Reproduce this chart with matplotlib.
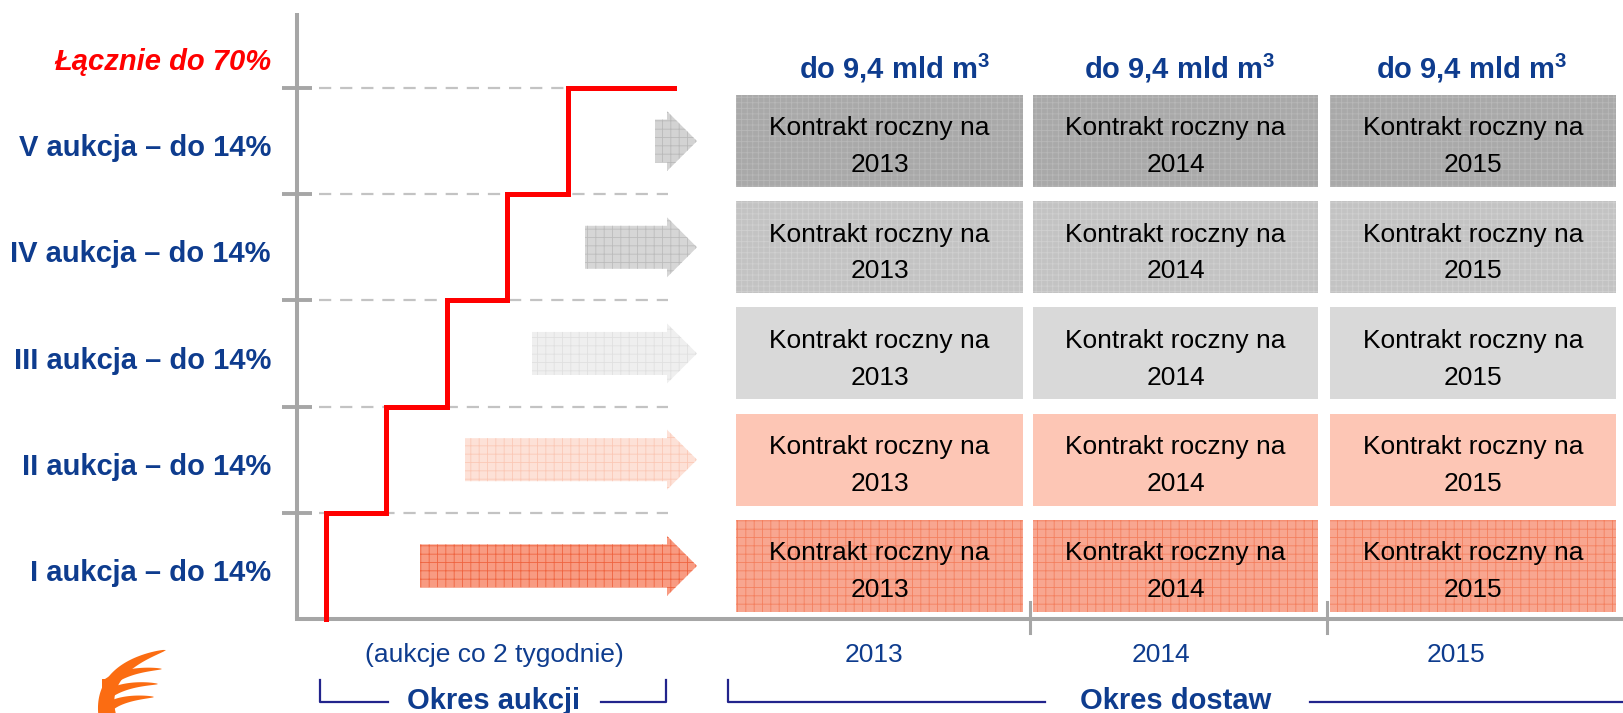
import numpy as np
import matplotlib.pyplot as plt
from matplotlib.patches import Polygon, Rectangle

plt.rcParams['font.family'] = ['Liberation Sans', 'DejaVu Sans']
plt.rcParams['hatch.linewidth'] = 0.6
plt.rcParams['mathtext.fontset'] = 'custom'
plt.rcParams['mathtext.rm'] = 'Liberation Sans'
plt.rcParams['mathtext.bf'] = 'Liberation Sans:bold'

# data
auctions = ['I', 'II', 'III', 'IV', 'V']
auction_share = [14, 14, 14, 14, 14]
total_label = 'Łącznie do 70%'
years = [2013, 2014, 2015]
year_volume = [9.4, 9.4, 9.4]
auction_note = '(aukcje co 2 tygodnie)'

# styles, bottom row (I) to top row (V)
blue = '#0e3c8e'
box_face = ['#f8a690', '#fdc6b5', '#d9d9d9', '#c3c3c3', '#a9a9a9']
box_hatch = ['++', None, None, '+++', '+++']
box_hatch_col = ['#f4805f', '#fdc6b5', '#d9d9d9', '#d0d0d0', '#b8b8b8']
arrow_face = ['#f89b82', '#fde1d7', '#efefef', '#d6d6d6', '#d3d3d3']
arrow_hatch_col = ['#ef6440', '#fbc8b6', '#e0e0e0', '#bcbcbc', '#b9b9b9']

# layout (x in pixels, y in percent)
px_per_pct = 7.586
y0_px = 619
axis_x = 297
step_x0, step_dx, step_end = 326, 60.5, 674
arrow_start = [420, 465, 532, 585, 655]
arrow_tip, head_len = 697, 30
cols = [(736, 1023), (1033, 1318), (1330, 1616)]
header_x = [894, 1179, 1471]
year_x = [874, 1161, 1456]

fig = plt.figure(figsize=(16.24, 7.13), dpi=100)
ax = fig.add_axes([0, 0, 1, 1])
ax.set_xlim(0, 1624)
ax.set_ylim(-(713 - y0_px) / px_per_pct, y0_px / px_per_pct)
ax.axis('off')

cum = np.cumsum(auction_share)
top = (y0_px - 13) / px_per_pct

# axes lines
ax.plot([axis_x, axis_x], [0, top], color='#a6a6a6', lw=2.9, solid_capstyle='butt', zorder=2)
ax.plot([axis_x, 1624], [0, 0], color='#a6a6a6', lw=2.9, solid_capstyle='projecting', zorder=2)
for a, b in cols[1:]:
    ax.plot([a - 3, a - 3], [-1.8, 2.2], color='#a6a6a6', lw=2.2, zorder=2)

# level lines and tick stubs
for c in cum:
    ax.plot([319, 668], [c, c], color='#c3c3c3', lw=1.6, ls=(0, (5.5, 4)), zorder=1)
    ax.plot([282, 312], [c, c], color='#a6a6a6', lw=2.8, solid_capstyle='butt', zorder=2)

# cumulative step line
xs = [step_x0] + [step_x0 + step_dx * i for i in range(len(cum))] + [step_end]
ys = [0] + list(cum) + [cum[-1]]
ax.plot(xs, ys, drawstyle='steps-post', color='#ff0000', lw=3.6,
        solid_joinstyle='miter', zorder=4)

body_h = 43 / px_per_pct
head_h = 60 / px_per_pct
box_h = 92 / px_per_pct

for k, (name, share) in enumerate(zip(auctions, auction_share)):
    lo = cum[k] - share
    mid = lo + share / 2
    # label
    ax.text(271, mid - 2.0, f'{name} aukcja – do {share}%', ha='right', va='baseline',
            fontsize=21, fontweight='bold', color=blue)
    # arrow
    xs0, xh = arrow_start[k], arrow_tip - head_len
    pts = [(xs0, mid - body_h / 2), (xh, mid - body_h / 2), (xh, mid - head_h / 2),
           (arrow_tip, mid), (xh, mid + head_h / 2), (xh, mid + body_h / 2),
           (xs0, mid + body_h / 2)]
    ax.add_patch(Polygon(pts, closed=True, facecolor=arrow_face[k],
                         edgecolor=arrow_hatch_col[k], lw=0, hatch='++', zorder=3))
    # contract boxes
    for (a, b), yr in zip(cols, years):
        ax.add_patch(Rectangle((a, mid - box_h / 2), b - a, box_h, facecolor=box_face[k],
                               edgecolor=box_hatch_col[k], lw=0, hatch=box_hatch[k], zorder=3))
        ax.text((a + b) / 2, mid - 0.75, f'Kontrakt roczny na\n{yr}', ha='center', va='center',
                fontsize=19, linespacing=1.68, color='black', zorder=5)

ax.text(271, 72.4, total_label, ha='right', va='baseline', fontsize=21,
        fontweight='bold', style='italic', color='#ff0000')

for x, v in zip(header_x, year_volume):
    num = f'{v:.1f}'.replace('.', ',')
    ax.text(x, 71.2, f'do {num} mld m' + r'$^{\mathbf{3}}$', ha='center', va='baseline',
            fontsize=21, fontweight='bold', color=blue)

for x, yr in zip(year_x, years):
    ax.text(x, -4.75, str(yr), ha='center', va='center', fontsize=19, color=blue)
ax.text(494, -4.75, auction_note, ha='center', va='center', fontsize=19, color=blue)

# brackets
br = '#22248c'
yb_top, yb_bot = -8.0, -10.95
ax.plot([320, 320, 388], [yb_top, yb_bot, yb_bot], color=br, lw=1.6)
ax.plot([601, 666, 666], [yb_bot, yb_bot, yb_top], color=br, lw=1.6)
ax.text(494, -11.9, 'Okres aukcji', ha='center', va='baseline', fontsize=21,
        fontweight='bold', color=blue)
ax.plot([728, 728, 1045], [yb_top, yb_bot, yb_bot], color=br, lw=1.6)
ax.plot([1310, 1624], [yb_bot, yb_bot], color=br, lw=1.6)
ax.text(1176, -11.9, 'Okres dostaw', ha='center', va='baseline', fontsize=21,
        fontweight='bold', color=blue)

# logo
lax = fig.add_axes([90 / 1624, 0, 80 / 1624, 66 / 713])
lax.set_xlim(0, 80)
lax.set_ylim(0, 66)
lax.axis('off')


def feather(p0, p1, p2, w0):
    p0, p1, p2 = np.array(p0, float), np.array(p1, float), np.array(p2, float)
    t = np.linspace(0, 1, 50)[:, None]
    pts = (1 - t) ** 2 * p0 + 2 * (1 - t) * t * p1 + t ** 2 * p2
    d = 2 * (1 - t) * (p1 - p0) + 2 * t * (p2 - p1)
    n = np.column_stack([-d[:, 1], d[:, 0]]) / np.linalg.norm(d, axis=1)[:, None]
    w = w0 * (1 - t) ** 0.6 / 2
    poly = np.vstack([pts + n * w, (pts - n * w)[::-1]])
    lax.add_patch(Polygon(poly, closed=True, facecolor='#fb6c12', edgecolor='none'))


feather((18, -6), (6, 44), (76, 63), 18)
feather((18, 30), (36, 44), (72, 44), 10)
feather((20, 20), (38, 30), (68, 29), 9)
feather((22, 8), (36, 16), (64, 16), 9)
lax.add_patch(Polygon([(12, -2), (12, 34), (22, 34), (24, -2)], closed=True,
                      facecolor='#fb6c12', edgecolor='none'))

fig.savefig('out.png', dpi=100)
